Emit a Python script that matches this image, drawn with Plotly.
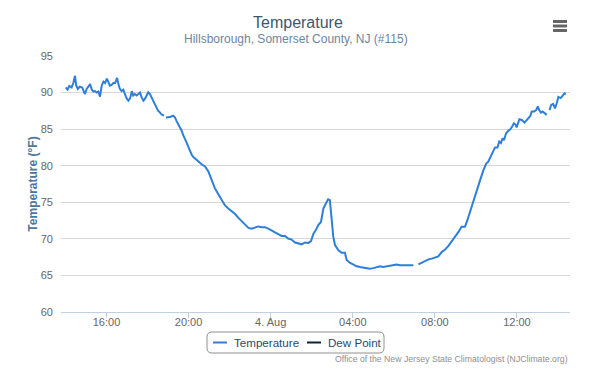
import plotly.graph_objects as go

# ---- data ----
times_aug3 = ["14:01","14:06","14:11","14:18","14:23","14:28","14:31","14:36","14:42","14:49",
              "14:57","15:02","15:07","15:12","15:17","15:21","15:26","15:31","15:36","15:41",
              "15:46","15:51","15:56","16:01","16:05","16:10","16:15","16:20","16:25","16:31",
              "16:34","16:39","16:44","16:49","16:54","16:59","17:04","17:09","17:14","17:18",
              "17:23","17:28","17:33","17:38","17:43","17:48","17:53","17:57","18:02","18:07",
              "18:12","18:17","18:22","18:27","18:31","18:36","18:41","18:48","18:51","18:54",
              "19:01","19:08","19:15","19:20","19:25","19:30","19:35","19:40","19:44","19:49",
              "19:54","19:59","20:04","20:09","20:14","20:19","20:28","20:38","20:48","20:58",
              "21:08","21:17","21:27","21:37","21:46","21:56","22:06","22:16","22:25","22:35",
              "22:45","22:55","23:04","23:14","23:24","23:34","23:43","23:53"]
temp_aug3 = [90.7,90.4,90.9,90.7,91.3,92.3,91.05,90.5,90.8,90.7,
             89.8,90.5,90.8,91.15,90.4,90.15,90.2,90.0,90.15,89.45,
             90.95,91.5,91.3,91.9,91.5,90.95,91.05,91.3,91.3,92.0,
             91.3,90.5,90.2,90.4,89.8,89.2,88.9,89.2,90.2,89.6,
             89.8,89.6,89.8,90.0,89.3,88.9,89.2,89.6,90.05,89.8,
             89.3,88.8,88.3,87.9,87.5,87.3,87.0,86.85,None,86.6,
             86.6,86.7,86.85,86.6,86.1,85.7,85.2,84.75,84.2,83.75,
             83.2,82.6,82.0,81.5,81.2,81.0,80.55,80.2,79.9,79.2,
             78.0,76.9,76.1,75.2,74.6,74.15,73.8,73.4,72.9,72.4,
             71.9,71.5,71.4,71.6,71.7,71.6,71.6,71.4]

times_aug4 = ["00:03","00:13","00:22","00:32","00:42","00:51","01:01","01:11","01:21","01:31",
              "01:40","01:50","01:58","02:05","02:12","02:19","02:27","02:34","02:42","02:48",
              "02:53","02:58","03:03","03:08","03:18","03:28","03:37","03:42","03:52","04:01",
              "04:11","04:21","04:31","04:41","04:50","05:00","05:10","05:20","05:29","05:39",
              "05:49","05:58","06:08","06:18","06:28","06:38","06:47","06:57","07:01","07:12",
              "07:21","07:31","07:41","07:51","08:00","08:10","08:20","08:30","08:39","08:49",
              "08:59","09:09","09:18","09:28","09:35","09:43","09:52","10:02","10:12","10:22",
              "10:30","10:36","10:43","10:51","10:56","11:03","11:08","11:13","11:18","11:22",
              "11:28","11:35","11:40","11:46","11:51","11:56","11:59","12:07","12:14","12:22",
              "12:29","12:39","12:43","12:50","12:56","13:01","13:05","13:10","13:15","13:21",
              "13:27","13:31","13:35","13:40","13:46","13:51","13:56","14:01","14:08","14:14",
              "14:19","14:23"]
temp_aug4 = [71.1,70.9,70.65,70.4,70.4,70.05,69.9,69.5,69.35,69.25,
             69.5,69.45,69.7,70.7,71.2,71.9,72.3,74.15,74.9,75.4,
             75.3,73.0,70.3,69.15,68.45,68.1,68.1,67.1,66.7,66.5,
             66.25,66.15,66.05,65.95,65.9,66.0,66.15,66.25,66.15,66.25,
             66.3,66.4,66.5,66.4,66.4,66.35,66.4,66.4,None,66.5,
             66.7,67.0,67.2,67.3,67.4,67.6,68.2,68.55,69.0,69.6,
             70.2,70.95,71.65,71.65,72.55,73.8,75.05,76.5,78.0,79.4,
             80.3,80.55,81.2,81.9,82.5,82.5,83.3,83.1,83.75,83.5,
             84.4,84.8,84.95,85.35,85.8,85.6,85.25,86.35,86.25,85.9,
             86.25,86.8,87.4,87.4,87.6,88.1,87.6,87.25,87.4,87.2,
             86.95,None,87.6,88.3,88.45,87.85,88.5,89.4,89.25,89.7,
             89.9,89.8]

# Dew Point series has no visible values in the reference
dew_times = ["2016-08-03 14:01"]
dew_values = [None]

series_names = ["Temperature", "Dew Point"]
series_colors = ["#2f7ed8", "#0d233a"]

tick_vals = ["2016-08-03 16:00", "2016-08-03 20:00", "2016-08-04 00:00",
             "2016-08-04 04:00", "2016-08-04 08:00", "2016-08-04 12:00"]
tick_text = ["16:00", "20:00", "4. Aug", "04:00", "08:00", "12:00"]
y_ticks = [60, 65, 70, 75, 80, 85, 90, 95]

x = ["2016-08-03 " + t for t in times_aug3] + ["2016-08-04 " + t for t in times_aug4]
y = temp_aug3 + temp_aug4

FONT = "Liberation Sans, Arial, sans-serif"
W, H = 600, 387
L, R, T, B = 61, 30, 56, 75
PW, PH = W - L - R, H - T - B

def px(xp):
    return (xp - L) / PW

def py(yp):
    return (H - B - yp) / PH

fig = go.Figure()
fig.add_trace(go.Scatter(x=x, y=y, mode="lines", name=series_names[0],
                         line=dict(color=series_colors[0], width=2), connectgaps=False))
fig.add_trace(go.Scatter(x=dew_times, y=dew_values, mode="lines", name=series_names[1],
                         line=dict(color=series_colors[1], width=2)))

fig.update_layout(
    width=W, height=H,
    margin=dict(l=L, r=R, t=T, b=B),
    paper_bgcolor="white", plot_bgcolor="white",
    font=dict(family=FONT, color="#666666", size=11),
    showlegend=False,
    xaxis=dict(range=["2016-08-03 13:47", "2016-08-04 14:35"],
               tickvals=tick_vals, ticktext=tick_text,
               showgrid=False, showline=True, linecolor="#C0D0E0", linewidth=1,
               ticks="outside", ticklen=5, tickcolor="#C0D0E0", tickwidth=1,
               ticklabelstandoff=-5,
               tickfont=dict(family=FONT, size=11, color="#666666"), zeroline=False),
    yaxis=dict(range=[60, 95], tickvals=y_ticks, showgrid=True, gridcolor="#d8d8d8",
               gridwidth=1, zeroline=False, showline=False, ticks="",
               ticklabelstandoff=7,
               tickfont=dict(family=FONT, size=11, color="#666666"),
               title=dict(text="Temperature (°F)", standoff=0,
                          font=dict(family=FONT, size=12, color="#4d759e", weight="bold"))),
)

fig.add_annotation(text="Temperature", xref="paper", yref="paper", x=px(298), y=py(22),
                   xanchor="center", yanchor="middle", showarrow=False,
                   font=dict(family=FONT, size=16, color="#3E576F"))
fig.add_annotation(text="Hillsborough, Somerset County, NJ (#115)", xref="paper", yref="paper",
                   x=px(296), y=py(39), xanchor="center", yanchor="middle", showarrow=False,
                   font=dict(family=FONT, size=12, color="#6D869F"))
fig.add_annotation(text="Office of the New Jersey State Climatologist (NJClimate.org)",
                   xref="paper", yref="paper", x=px(570), y=py(359), xanchor="right",
                   yanchor="middle", showarrow=False,
                   font=dict(family=FONT, size=8.7, color="#909090"))

# legend box (rounded, Highcharts style)
bx0, bx1, by0, by1, rr = px(207), px(384), py(332), py(353), 5
rx, ry = rr / PW, rr / PH
path = (f"M {bx0+rx},{by0} L {bx1-rx},{by0} Q {bx1},{by0} {bx1},{by0-ry} "
        f"L {bx1},{by1+ry} Q {bx1},{by1} {bx1-rx},{by1} L {bx0+rx},{by1} "
        f"Q {bx0},{by1} {bx0},{by1+ry} L {bx0},{by0-ry} Q {bx0},{by0} {bx0+rx},{by0} Z")
fig.add_shape(type="path", xref="paper", yref="paper", path=path,
              line=dict(color="#909090", width=1), fillcolor="white", layer="below")

legend_items = [(213, 227, 232), (307, 321, 326)]
for (lx0, lx1, tx), name, col in zip(legend_items, series_names, series_colors):
    fig.add_shape(type="line", xref="paper", yref="paper", x0=px(lx0), x1=px(lx1),
                  y0=py(342.5), y1=py(342.5), line=dict(color=col, width=2))
    fig.add_annotation(text=name, xref="paper", yref="paper", x=px(tx), y=py(342.5),
                       xanchor="left", yanchor="middle", showarrow=False,
                       font=dict(family=FONT, size=11.6, color="#274b6d"))

for yy in (21.5, 26, 30.5):
    fig.add_shape(type="line", xref="paper", yref="paper", x0=px(553), x1=px(567),
                  y0=py(yy), y1=py(yy), line=dict(color="#666666", width=3))

fig.write_html("out.html", config={"displayModeBar": False},
               post_script="document.body.style.margin='0';document.body.style.padding='0';")
